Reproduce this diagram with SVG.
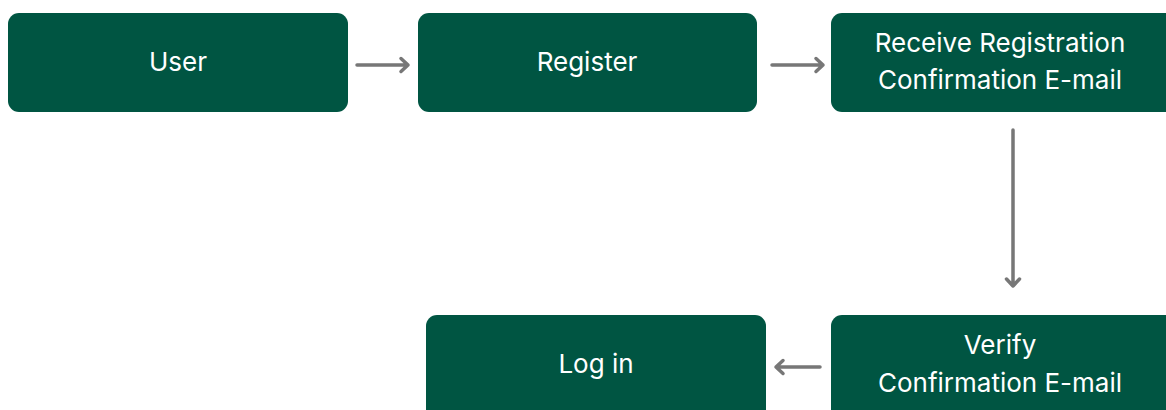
<svg xmlns="http://www.w3.org/2000/svg" width="1166" height="410" viewBox="0 0 1166 410">
<defs>
<style>
.box{fill:#005542}
.lbl{fill:#ffffff;font-family:Inter,"Noto Sans",sans-serif;font-size:26px;text-anchor:middle;dominant-baseline:central}
.conn{stroke:#777777;stroke-width:3.5;fill:none;stroke-linecap:round;stroke-linejoin:round}
</style>
</defs>
<rect width="1166" height="410" fill="#ffffff"/>
<g id="user"><rect class="box" x="8" y="13" width="340" height="99" rx="11"/><text class="lbl" x="178" y="61">User</text></g>
<g id="register"><rect class="box" x="418" y="13" width="339" height="99" rx="11"/><text class="lbl" x="587" y="61">Register</text></g>
<g id="receive"><rect class="box" x="831" y="13" width="345" height="99" rx="11"/><text class="lbl" x="1000" y="42">Receive Registration</text><text class="lbl" x="1000" y="79">Confirmation E-mail</text></g>
<g id="verify"><rect class="box" x="831" y="315" width="345" height="110" rx="11"/><text class="lbl" x="1000" y="344">Verify</text><text class="lbl" x="1000" y="382">Confirmation E-mail</text></g>
<g id="login"><rect class="box" x="426" y="315" width="340" height="110" rx="11"/><text class="lbl" x="596" y="363">Log in</text></g>
<g id="connectors">
<path class="conn" d="M357 65H408M401 58.5L408 65L401 71.5"/>
<path class="conn" d="M772 65H823M816 58.5L823 65L816 71.5"/>
<path class="conn" d="M1013 130V286M1006.5 279L1013 286L1019.5 279"/>
<path class="conn" d="M820 367H776M783 360.5L776 367L783 373.5"/>
</g>
</svg>
